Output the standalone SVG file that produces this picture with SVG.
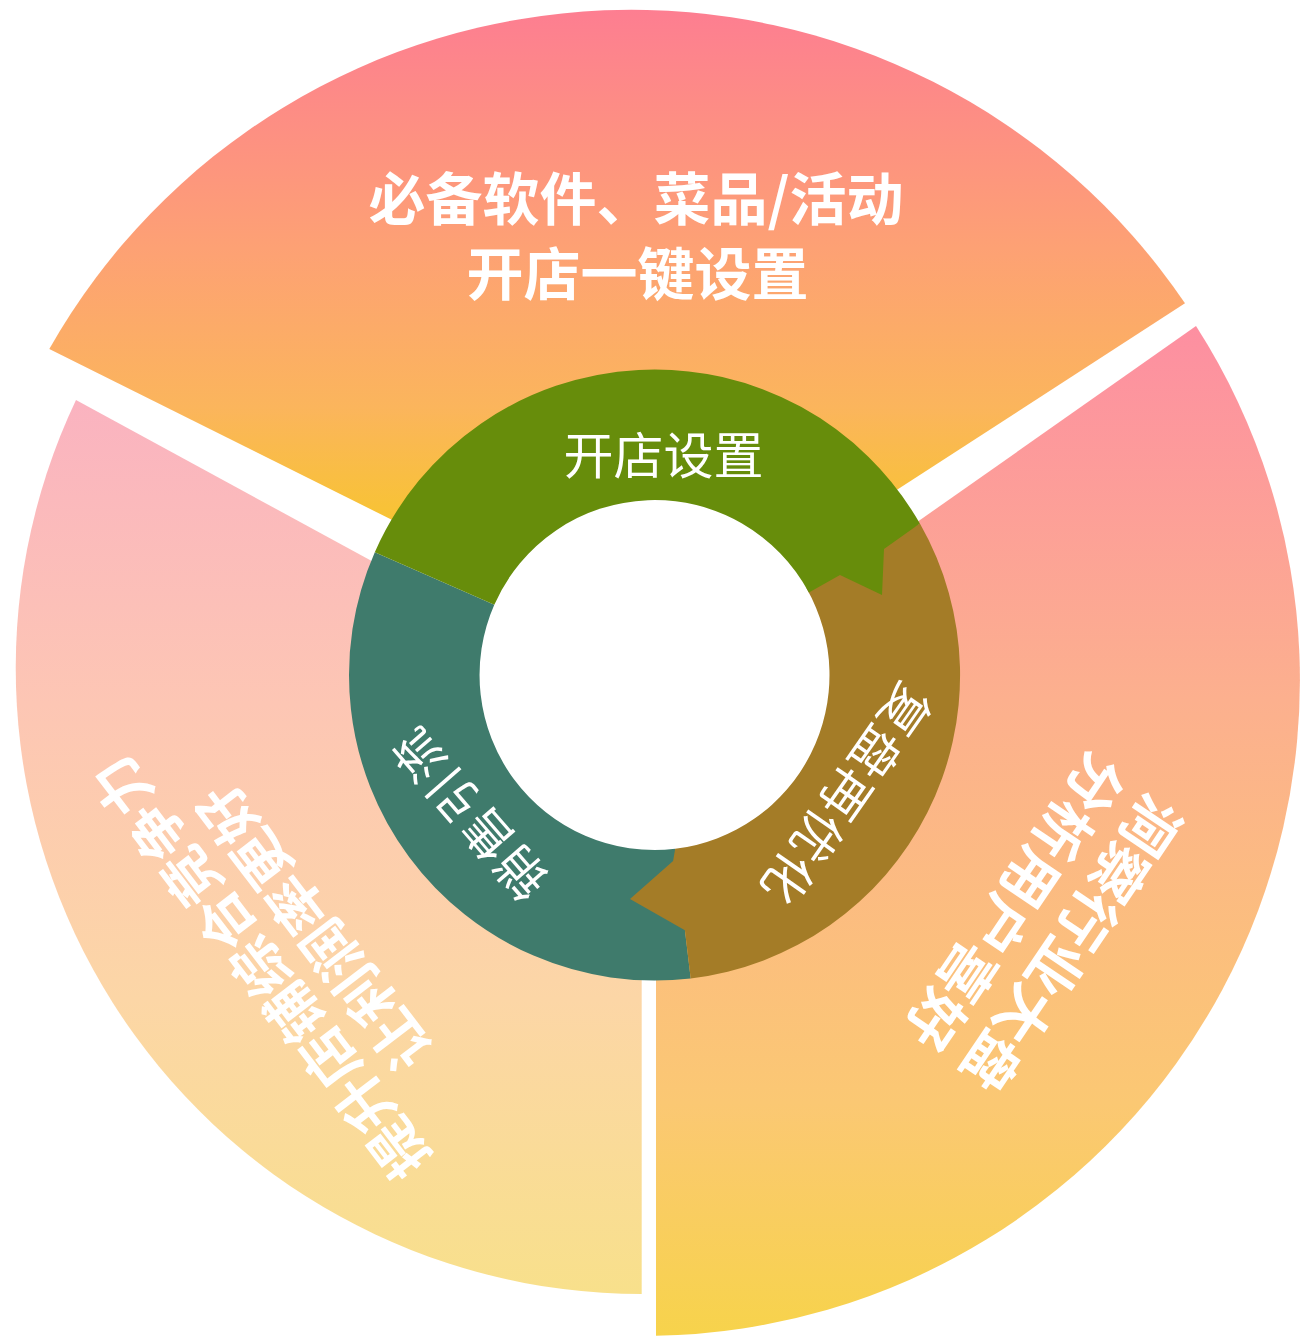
<svg xmlns="http://www.w3.org/2000/svg" width="1304" height="1342" viewBox="0 0 1304 1342">
  <defs>
    <linearGradient id="gTop" gradientUnits="userSpaceOnUse" x1="0" y1="10" x2="0" y2="540">
      <stop offset="0" stop-color="#fd7e91"/>
      <stop offset="0.45" stop-color="#fda174"/>
      <stop offset="0.75" stop-color="#fbb55c"/>
      <stop offset="1" stop-color="#f7c62c"/>
    </linearGradient>
    <linearGradient id="gRight" gradientUnits="userSpaceOnUse" x1="0" y1="326" x2="0" y2="1336">
      <stop offset="0" stop-color="#fd8fa1"/>
      <stop offset="0.37" stop-color="#fcb08e"/>
      <stop offset="0.77" stop-color="#fbc873"/>
      <stop offset="1" stop-color="#f7d34b"/>
    </linearGradient>
    <linearGradient id="gLeft" gradientUnits="userSpaceOnUse" x1="0" y1="400" x2="0" y2="1294">
      <stop offset="0" stop-color="#fab3c0"/>
      <stop offset="0.34" stop-color="#fdc6b4"/>
      <stop offset="0.67" stop-color="#fcd6a6"/>
      <stop offset="1" stop-color="#f8e08b"/>
    </linearGradient>
  </defs>
  <style>
    text { font-family: "Noto Sans CJK SC", "Noto Sans", sans-serif; fill: #ffffff; }
    .outer { font-size: 57px; font-weight: 700; }
    .ring { font-size: 50px; font-weight: 400; }
  </style>
  <rect width="1304" height="1342" fill="#ffffff"/>

  <g id="sector-top">
    <path d="M651,649 L49.3,349 A669,669 0 0 1 1185,303.3 Z" fill="url(#gTop)"/>
    <text class="outer" x="636" y="220" text-anchor="middle">必备软件、菜品/活动</text>
    <text class="outer" x="637.5" y="295" text-anchor="middle">开店一键设置</text>
  </g>

  <g id="sector-right">
    <path d="M656,705.6 L1196,326 A655.6,655.6 0 0 1 656,1335.7 Z" fill="url(#gRight)"/>
    <g transform="translate(1071.5,943.5) rotate(124)">
      <text class="outer" x="0" y="21" text-anchor="middle">洞察行业大盘</text>
    </g>
    <g transform="translate(1015,901.5) rotate(124)">
      <text class="outer" x="0" y="21" text-anchor="middle">分析用户喜好</text>
    </g>
  </g>

  <g id="sector-left">
    <path d="M641.7,708 L641.7,1294 A626,626 0 0 1 76,400 Z" fill="url(#gLeft)"/>
    <g transform="translate(260.5,967) rotate(232.6)">
      <text class="outer" x="0" y="21" text-anchor="middle">提升店铺综合竞争力</text>
    </g>
    <g transform="translate(313.9,927) rotate(232.6)">
      <text class="outer" x="0" y="21" text-anchor="middle">让利润率更好</text>
    </g>
  </g>

  <g id="ring">
    <circle cx="654.5" cy="675" r="176" fill="#ffffff"/>
    <g id="step-sales">
      <path d="M690.7,978.4 A305.5,305.5 0 0 1 374.8,552.2 L494.3,604.7 A175,175 0 0 0 675.2,848.8 Z" fill="#3f7b6c"/>
      <g transform="translate(470.4,813.4) rotate(229)">
        <text class="ring" x="0" y="18" text-anchor="middle" letter-spacing="2">销售引流</text>
      </g>
    </g>
    <g id="step-review">
      <path d="M919.9,523.6 A305.5,305.5 0 0 1 690.7,978.4 L684.9,930.2 L630,899 L673.1,861.1 L675.2,848.8 A175,175 0 0 0 806.5,588.3 Z" fill="#a47c27"/>
      <g transform="translate(845.7,794.3) rotate(124.9)">
        <text class="ring" x="0" y="18" text-anchor="middle" letter-spacing="1">复盘再优化</text>
      </g>
    </g>
    <g id="step-setup">
      <path d="M374.8,552.2 A305.5,305.5 0 0 1 919.9,523.6 L884,549 L882,595 L840,575 L808.9,592.6 A175,175 0 0 0 494.3,604.7 Z" fill="#678d0b"/>
      <text class="ring" x="663.5" y="474" text-anchor="middle">开店设置</text>
    </g>
  </g>
</svg>
